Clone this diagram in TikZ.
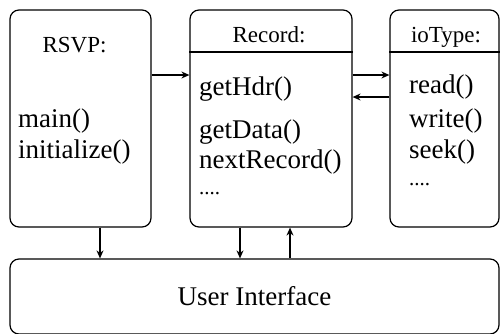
\documentclass[tikz,border=0pt]{standalone}
\usepackage{fontspec}
\setmainfont{Liberation Serif}
\usetikzlibrary{arrows.meta}
\begin{document}
\begin{tikzpicture}[x=1pt,y=-1pt,
	box/.style={draw, line width=1.2pt, rounded corners=9pt, inner sep=0pt},
	title text/.style={anchor=base, inner sep=0pt, font=\fontsize{23}{28}\selectfont},
	method text/.style={anchor=base west, inner sep=0pt, font=\fontsize{27}{31}\selectfont},
	more text/.style={anchor=base west, inner sep=0pt, font=\fontsize{21}{25}\selectfont},
	link/.style={-{Stealth[length=8pt,width=7pt]}, line width=1.2pt}]
	\useasboundingbox (0,0) rectangle (501,333);

	% class boxes
	\node[box, minimum width=141pt, minimum height=217pt] (rsvp) at (80.5,118.5) {};
	\node[box, minimum width=162pt, minimum height=217pt] (record) at (271,118.5) {};
	\node[box, minimum width=109pt, minimum height=217pt] (iotype) at (444.5,118.5) {};
	\node[box, minimum width=489pt, minimum height=75pt, font=\fontsize{27}{31}\selectfont] (ui) at (254.5,296.5) {User Interface};

	% title dividers
	\coordinate (div) at (0,52);
	\foreach \cls in {record, iotype}
		\draw[line width=1.2pt] (\cls.west |- div) -- (\cls.east |- div);

	% titles
	\node[title text] (rsvp title) at (74.5,52) {RSVP:};
	\node[title text] (record title) at (269,42) {Record:};
	\node[title text] (iotype title) at (446,42) {ioType:};

	% methods
	\foreach \y/\name in {127/main(), 158/initialize()}
		\node[method text] at (18,\y) {\name};
	\foreach \y/\name in {95/getHdr(), 138/getData(), 168/nextRecord()}
		\node[method text] at (199,\y) {\name};
	\foreach \y/\name in {93/read(), 127/write(), 158/seek()}
		\node[method text] at (409,\y) {\name};
	\node[more text] (record more) at (199,194) {....};
	\node[more text] (iotype more) at (409,185) {....};

	% calls
	\coordinate (hi) at (0,75);
	\coordinate (lo) at (0,97);
	\draw[link] (rsvp.east |- hi) -- (record.west |- hi);
	\draw[link] (record.east |- hi) -- (iotype.west |- hi);
	\draw[link] (iotype.west |- lo) -- (record.east |- lo);
	\foreach \src/\x in {rsvp/100, record/240}
		\draw[link] (\src.south -| \x,0) -- (ui.north -| \x,0);
	\draw[link] (ui.north -| 290,0) -- (record.south -| 290,0);
\end{tikzpicture}
\end{document}
